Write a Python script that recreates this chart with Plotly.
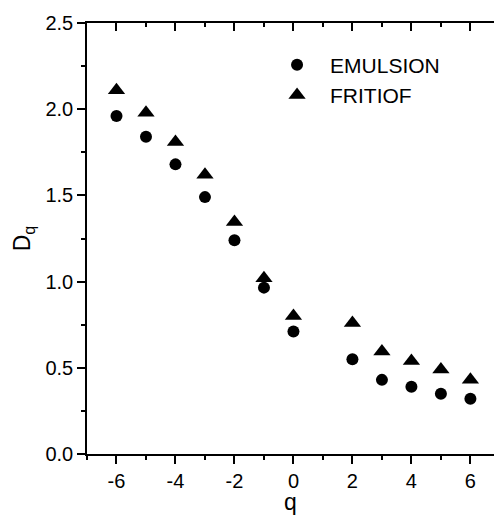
import plotly.graph_objects as go

q = [-6, -5, -4, -3, -2, -1, 0, 2, 3, 4, 5, 6]
emulsion = [1.96, 1.84, 1.68, 1.49, 1.24, 0.965, 0.71, 0.55, 0.43, 0.39, 0.35, 0.32]
fritiof = [2.11, 1.98, 1.81, 1.62, 1.345, 1.02, 0.80, 0.76, 0.595, 0.54, 0.49, 0.43]

FONT = "Liberation Sans, Arial, Helvetica, sans-serif"

fig = go.Figure()
fig.add_trace(go.Scatter(x=q, y=emulsion, mode="markers", name="EMULSION",
                         marker=dict(symbol="circle", size=12, color="black")))
fig.add_trace(go.Scatter(x=q, y=fritiof, mode="markers", name="FRITIOF",
                         marker=dict(symbol="triangle-up", size=15, color="black")))

xr = [-7, 6.8]
fig.update_layout(
    width=494, height=515,
    margin=dict(l=87, r=0, t=23, b=61),
    plot_bgcolor="white", paper_bgcolor="white",
    font=dict(family=FONT, color="black", size=20),
    showlegend=True,
    legend=dict(x=0.435, y=0.95, xanchor="left", yanchor="top",
                font=dict(size=21, family=FONT), bgcolor="rgba(0,0,0,0)",
                tracegroupgap=0, itemwidth=56),
    xaxis=dict(range=xr, tickmode="array", tickvals=[-6, -4, -2, 0, 2, 4, 6],
               ticktext=["-6", "-4", "-2", "0", "2", "4", "6"],
               ticks="outside", ticklen=8, tickwidth=1.5, tickcolor="black",
               showline=True, linewidth=1.5, linecolor="black", showgrid=False,
               zeroline=False, tickfont=dict(size=20),
               minor=dict(ticks="outside", ticklen=4, tickwidth=1.5, tickcolor="black",
                          tickvals=[-7, -5, -3, -1, 1, 3, 5], showgrid=False),
               title=dict(text="q", font=dict(size=23), standoff=3)),
    xaxis2=dict(range=xr, overlaying="x", side="top", anchor="y",
                tickvals=[-6, -4, -2, 0, 2, 4, 6], showticklabels=False,
                ticks="inside", ticklen=8, tickwidth=1.5, tickcolor="black",
                showline=True, linewidth=1.5, linecolor="black", showgrid=False,
                zeroline=False,
                minor=dict(ticks="inside", ticklen=4, tickwidth=1.5, tickcolor="black",
                           tickvals=[-7, -5, -3, -1, 1, 3, 5], showgrid=False)),
    yaxis=dict(range=[0, 2.5], tickmode="array", tickvals=[0, 0.5, 1.0, 1.5, 2.0, 2.5],
               ticktext=["0.0", "0.5", "1.0", "1.5", "2.0", "2.5"],
               ticks="outside", ticklen=8, tickwidth=1.5, tickcolor="black",
               showline=True, linewidth=1.5, linecolor="black", showgrid=False,
               zeroline=False, tickfont=dict(size=20),
               minor=dict(ticks="outside", ticklen=4, tickwidth=1.5, tickcolor="black",
                          tickvals=[0.25, 0.75, 1.25, 1.75, 2.25], showgrid=False),
               title=dict(text="D<sub>q</sub>", font=dict(size=23), standoff=8)),
)
fig.add_trace(go.Scatter(x=[None], y=[None], xaxis="x2", showlegend=False, hoverinfo="skip"))

fig.write_html("out.html")
